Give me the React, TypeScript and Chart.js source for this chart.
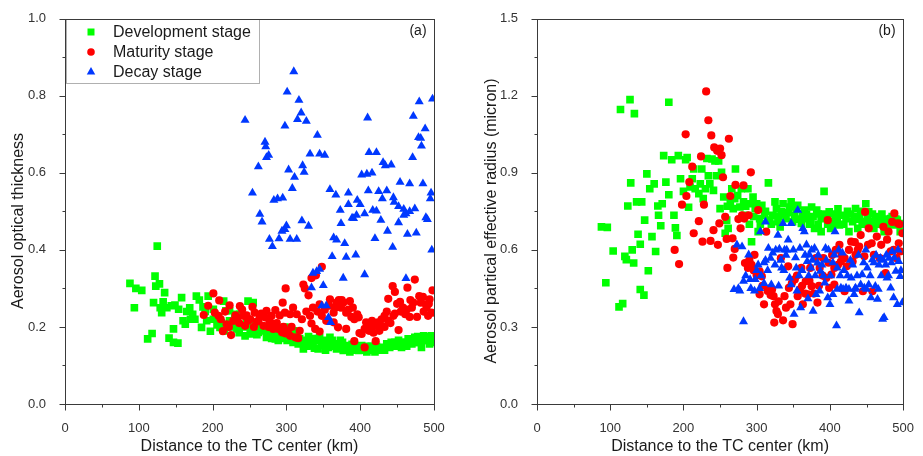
import React, { useEffect, useRef } from 'react';
import { Chart, registerables } from 'chart.js';
Chart.register(...registerables);

const FONT = '"Liberation Sans", Arial, Helvetica, sans-serif';

const seriesLabels = ['Development stage', 'Maturity stage', 'Decay stage'];
const seriesColors = ['#00ff00', '#ff0000', '#0038ff'];

const xTickRange = [0, 500];
const aotRange = [0, 1.0];
const reffRange = [0, 1.5];

// Panel (a): aerosol optical thickness vs distance (km)
const devAot: number[][] = [
  [88,.313],[96,.3],[104,.295],[94,.25],[122,.332],[125,.41],[128,.312],[123,.306],[120,.263],[133,.265],[135,.289],[131,.237],[129,.25],[112,.169],[118,.183],[141,.171],[147,.195],[147,.16],[153,.158],[158,.276],[149,.257],[154,.246],[160,.216],[163,.207],[165,.24],[169,.25],[173,.233],[176,.22],[178,.28],[182,.27],[185,.199],[187,.252],[194,.28],[197,.189],[192,.216],[201,.22],[205,.226],[210,.199],[215,.267],[218,.242],[223,.216],[230,.233],[233,.195],[237,.233],[244,.177],[248,.267],[251,.182],[255,.195],[262,.186],[266,.195],[273,.173],[278,.182],[285,.169],[289,.165],[296,.182],[301,.165],[309,.16],[316,.156],[323,.143],[326,.165],[332,.16],[336,.152],[343,.143],[345,.173],[350,.152],[357,.147],[359,.173],[364,.156],[368,.143],[373,.165],[377,.139],[382,.152],[386,.135],[391,.147],[398,.139],[402,.152],[409,.135],[413,.143],[420,.135],[424,.143],[431,.147],[436,.156],[440,.147],[445,.156],[452,.165],[456,.147],[461,.16],[465,.169],[470,.156],[474,.173],[479,.16],[483,.147],[486,.177],[490,.165],[494,.156],[497,.177],[499,.169],[255,.263],[201,.246],[223,.242],[240,.2],[258,.21],[270,.19],[282,.2],[292,.19],[305,.175],[318,.17],[330,.175],[340,.165],[355,.16],[370,.155],[380,.145],[395,.15],[405,.14],[415,.15],[428,.14],[448,.15],[468,.165],[478,.175],[488,.17],[495,.16],[362,.165],[348,.155],[460,.155],[442,.16],[246,.22],[228,.205],[212,.21],[190,.24],[170,.22],[144,.255],[138,.25],[310,.19],[298,.2],
  [303,.19],[313,.18],[320,.16],[328,.15],[335,.17],[338,.145],[352,.165],[353,.14],[366,.15],[372,.145],[376,.16],[385,.145],[389,.155],[393,.14],[400,.145],[407,.145],[411,.15],[418,.14],[422,.15],[433,.14],[438,.15],[447,.16],[451,.155],[458,.16],[463,.15],[472,.165],[476,.16],[481,.17],[485,.165],[492,.175],[496,.165],[260,.18],[268,.2],[275,.185],[280,.17],[287,.18],[294,.17],[250,.2],[236,.185],[226,.2],[216,.19],[206,.205]
];
const matAot: number[][] = [
  [201,.287],[188,.231],[194,.255],[209,.269],[208,.229],[203,.237],[223,.256],[237,.254],[219,.207],[214,.189],[225,.179],[228,.216],[234,.225],[242,.229],[244,.203],[248,.216],[254,.252],[257,.237],[260,.214],[264,.226],[269,.203],[273,.242],[277,.216],[280,.229],[282,.195],[285,.244],[289,.195],[294,.186],[299,.183],[305,.177],[312,.173],[316,.171],[299,.3],[295,.263],[298,.237],[305,.233],[309,.25],[314,.233],[321,.22],[323,.31],[325,.3],[330,.282],[334,.327],[340,.334],[348,.356],[332,.229],[334,.209],[339,.195],[345,.188],[348,.229],[354,.216],[359,.272],[364,.237],[368,.263],[374,.25],[377,.263],[381,.237],[386,.267],[388,.226],[364,.212],[370,.199],[381,.195],[392,.163],[396,.233],[399,.184],[406,.147],[406,.195],[411,.203],[416,.216],[420,.203],[421,.163],[424,.212],[429,.22],[433,.229],[438,.216],[438,.273],[444,.306],[447,.291],[445,.229],[452,.192],[454,.265],[458,.25],[461,.233],[464,.302],[467,.226],[472,.263],[474,.323],[477,.226],[482,.263],[485,.278],[489,.259],[492,.229],[494,.272],[498,.295],[497,.237],[408,.212],[402,.182],[345,.259],[415,.2],[427,.205],[436,.24],[450,.26],[468,.27],[480,.28],[490,.25],[371,.27],[384,.245],[392,.22],
  [211,.22],[217,.24],[222,.2],[231,.23],[236,.21],[240,.245],[246,.23],[251,.22],[256,.2],[262,.215],[266,.235],[271,.225],[276,.2],[279,.21],[287,.21],[291,.23],[296,.2],[302,.19],[307,.2],[318,.19],[327,.24],[336,.25],[342,.24],[352,.245],[358,.255],[366,.25],[375,.27],[390,.25],[398,.225],[412,.19],[418,.185],[426,.19],[433,.2],[441,.21],[447,.235],[455,.24],[463,.245],[470,.25],[486,.24],[493,.26]
];
const decAot: number[][] = [
  [244,.737],[310,.863],[301,.81],[317,.789],[320,.756],[315,.739],[327,.734],[298,.722],[342,.698],[271,.68],[272,.668],[332,.649],[345,.649],[352,.646],[273,.64],[276,.646],[262,.616],[322,.619],[324,.602],[303,.608],[311,.589],[254,.548],[308,.56],[264,.493],[267,.473],[321,.476],[330,.462],[277,.428],[281,.409],[290,.429],[298,.453],[300,.463],[294,.449],[305,.428],[314,.428],[283,.529],[288,.533],[295,.535],[336,.34],[341,.344],[345,.35],[334,.302],[350,.308],[348,.255],[354,.255],[360,.212],[357,.225],
  [410,.743],[472,.747],[480,.785],[498,.792],[488,.715],[482,.69],[479,.692],[483,.67],[471,.64],[412,.653],[422,.653],[431,.627],[434,.619],[442,.621],[402,.595],[409,.597],[416,.6],[454,.576],[467,.572],[485,.572],[496,.548],[495,.533],[359,.557],[367,.543],[384,.548],[411,.554],[425,.552],[436,.554],[430,.533],[446,.524],[445,.536],[452,.513],[459,.506],[462,.494],[459,.49],[467,.5],[474,.507],[373,.503],[384,.518],[396,.529],[400,.518],[389,.483],[395,.49],[406,.494],[417,.503],[422,.501],[428,.477],[452,.471],[374,.469],[364,.432],[368,.426],[379,.417],[391,.482],[420,.43],[437,.449],[464,.441],[476,.444],[491,.479],[489,.484],[497,.4],[444,.407],[362,.383],[381,.381],[394,.387],[377,.327],[406,.336],[462,.326]
];

// Panel (b): aerosol particle effective radius (micron) vs distance (km)
const devReff: number[][] = [
  [88,.69],[96,.688],[104,.596],[94,.472],[114,1.147],[127,1.185],[133,1.131],[180,1.175],[112,.378],[117,.391],[120,.575],[122,.562],[124,.771],[128,.861],[130,.6],[132,.549],[136,.787],[143,.787],[138,.661],[141,.622],[141,.446],[146,.424],[150,.896],[147,.716],[152,.519],[154,.838],[157,.652],[160,.857],[162,.594],[165,.771],[166,.735],[169,.694],[171,.78],[173,.967],[176,.864],[180,.815],[184,.951],[187,.735],[189,.686],[191,.656],[193,.967],[196,.877],[200,.828],[203,.951],[205,.96],[207,.766],[209,.845],[212,.877],[214,.915],[216,.838],[221,.819],[223,.857],[225,.915],[227,.8],[230,.838],[232,.956],[234,.889],[236,.857],[239,.954],[241,.832],[243,.947],[245,.889],[248,.947],[250,.761],[252,.902],[255,.806],[257,.665],[259,.716],[261,.684],[264,.787],[266,.838],[268,.761],[271,.915],[274,.812],[277,.767],[279,.838],[282,.787],[284,.735],[288,.838],[291,.78],[293,.632],[295,.806],[298,.761],[302,.671],[304,.722],[307,.774],[311,.735],[316,.861],[318,.716],[322,.735],[325,.787],[329,.71],[334,.748],[336,.78],[340,.722],[345,.767],[347,.787],[352,.735],[356,.774],[361,.703],[365,.755],[370,.722],[375,.767],[379,.684],[382,.755],[388,.722],[392,.828],[395,.735],[399,.748],[404,.71],[408,.735],[413,.697],[417,.735],[422,.722],[426,.671],[431,.71],[435,.761],[440,.722],[444,.71],[449,.78],[453,.748],[456,.71],[460,.684],[465,.716],[469,.729],[474,.71],[478,.697],[483,.722],[487,.697],[492,.716],[496,.671],[499,.703],[374,.71],[401,.684],[438,.684],[474,.671],[388,.671],[330,.73],[343,.745],[358,.72],[384,.74],[410,.72],[428,.74],[447,.7],[462,.73],[490,.72],
  [305,.7],[312,.75],[320,.7],[327,.76],[332,.69],[338,.74],[349,.71],[354,.76],[363,.73],[368,.74],[372,.7],[377,.73],[384,.7],[391,.74],[397,.7],[402,.74],[406,.7],[411,.76],[419,.7],[424,.75],[433,.73],[437,.72],[442,.75],[451,.72],[458,.74],[463,.7],[467,.7],[471,.74],[476,.72],[481,.7],[485,.73],[489,.7],[494,.7],[498,.68],[260,.77],[270,.8],[285,.77],[296,.73],[300,.78],[290,.7]
];
const matReff: number[][] = [
  [231,1.217],[234,1.105],[238,1.046],[203,1.05],[262,1.033],[242,.999],[250,.995],[246,.986],[252,.969],[224,.964],[212,.924],[292,.902],[254,.883],[208,.864],[271,.853],[282,.851],[204,.81],[264,.81],[198,.776],[228,.776],[221,.712],[214,.665],[226,.632],[237,.635],[241,.677],[247,.62],[249,.703],[257,.729],[259,.643],[267,.645],[270,.604],[275,.72],[278,.684],[280,.735],[283,.722],[289,.735],[260,.53],[188,.6],[194,.545],[302,.755],[284,.549],[288,.53],[293,.542],[297,.581],[300,.501],[304,.517],[307,.497],[304,.427],[310,.388],[313,.671],[315,.44],[319,.424],[321,.446],[325,.388],[327,.362],[329,.35],[324,.317],[333,.568],[336,.326],[340,.375],[343,.536],[344,.452],[346,.388],[349,.311],[352,.485],[356,.42],[359,.446],[361,.53],[363,.388],[367,.478],[370,.427],[373,.53],[375,.459],[381,.568],[383,.395],[386,.53],[391,.568],[397,.716],[395,.491],[399,.452],[402,.504],[406,.53],[411,.542],[413,.62],[415,.555],[420,.568],[423,.536],[429,.632],[431,.555],[435,.581],[440,.613],[442,.658],[448,.748],[447,.575],[453,.684],[457,.626],[460,.581],[464,.652],[468,.568],[473,.69],[476,.51],[480,.671],[483,.594],[485,.709],[488,.742],[491,.568],[493,.703],[494,.626],[496,.594],[499,.665],[420,.439],[445,.439],[458,.439],[406,.465],
  [318,.45],[323,.42],[330,.4],[338,.42],[348,.47],[355,.5],[362,.46],[366,.43],[372,.48],[378,.43],[385,.46],[390,.5],[398,.55],[403,.58],[408,.6],[416,.58],[426,.6],[434,.63],[438,.6],[452,.62],[470,.62],[478,.64],[487,.6],[495,.7],[308,.46],[296,.52],[290,.56],[268,.57]
];
const decReff: number[][] = [
  [273,.62],[280,.613],[289,.581],[282,.321],[269,.446],[277,.44],[282,.478],[291,.485],[298,.485],[297,.44],[302,.542],[305,.671],[312,.709],[316,.607],[319,.568],[322,.588],[325,.542],[329,.658],[331,.604],[334,.53],[336,.703],[338,.6],[343,.639],[347,.703],[345,.491],[351,.35],[354,.53],[356,.755],[359,.607],[360,.375],[363,.684],[365,.671],[368,.62],[369,.555],[372,.581],[374,.53],[377,.362],[379,.607],[381,.427],[383,.549],[387,.517],[389,.542],[393,.472],[394,.607],[397,.414],[400,.388],[404,.427],[406,.581],[407,.671],[409,.305],[410,.53],[415,.452],[417,.588],[422,.452],[426,.401],[429,.491],[431,.542],[433,.427],[435,.452],[440,.356],[442,.465],[444,.504],[447,.452],[451,.53],[453,.465],[456,.414],[458,.562],[462,.459],[465,.408],[467,.542],[469,.568],[472,.33],[474,.337],[476,.542],[478,.491],[481,.568],[483,.452],[485,.594],[487,.414],[490,.517],[492,.388],[494,.555],[496,.497],[499,.395],[347,.465],[320,.465],[410,.447],[418,.447],[426,.447],[434,.447],[450,.447],[466,.447],[312,.56],[340,.58],[376,.56],[395,.56],
  [300,.52],[306,.5],[310,.55],[315,.52],[326,.6],[333,.56],[337,.52],[341,.6],[350,.6],[353,.57],[358,.5],[362,.52],[366,.58],[371,.5],[375,.6],[380,.5],[384,.58],[391,.5],[398,.6],[401,.5],[404,.55],[412,.6],[414,.5],[419,.52],[424,.5],[428,.56],[437,.5],[439,.58],[446,.55],[449,.6],[455,.5],[460,.55],[463,.58],[470,.5],[473,.56],[477,.58],[480,.5],[484,.55],[488,.57],[493,.6],[497,.52],[285,.5],[275,.45],[292,.45],[304,.45],[310,.47],[330,.46],[355,.44],[370,.41],[386,.44]
];

const toPts = (arr: number[][]) => arr.map(([x, y]) => ({ x, y }));

const framePlugin = {
  id: 'frame',
  afterDraw(chart: any, _args: any, opts: any) {
    const { ctx, chartArea: a } = chart;
    const xs = chart.scales.x;
    const ys = chart.scales.y;
    const L = Math.round(a.left), R = Math.round(a.right), T = Math.round(a.top), B = Math.round(a.bottom);
    ctx.save();
    if (opts.legend) {
      const bx = L + 1, by = T, bw = 193, bh = 64;
      ctx.fillStyle = '#ffffff';
      ctx.fillRect(bx, by, bw, bh);
      ctx.strokeStyle = '#b0b0b0';
      ctx.lineWidth = 1;
      ctx.strokeRect(bx + 0.5, by + 0.5, bw, bh);
      chart.data.datasets.forEach((ds: any, i: number) => {
        const cy = by + 13 + i * 20;
        const cx = L + 26;
        ctx.fillStyle = ds.backgroundColor;
        ctx.beginPath();
        if (ds.pointStyle === 'rect') {
          ctx.rect(cx - 3.5, cy - 3.5, 7, 7);
        } else if (ds.pointStyle === 'circle') {
          ctx.arc(cx, cy, 3.8, 0, Math.PI * 2);
        } else {
          const r = 4.9;
          ctx.moveTo(cx, cy - r);
          ctx.lineTo(cx + r * Math.sin(2 * Math.PI / 3), cy + r * 0.5);
          ctx.lineTo(cx - r * Math.sin(2 * Math.PI / 3), cy + r * 0.5);
          ctx.closePath();
        }
        ctx.fill();
        ctx.fillStyle = '#1a1a1a';
        ctx.font = `16px ${FONT}`;
        ctx.textAlign = 'left';
        ctx.textBaseline = 'middle';
        ctx.fillText(ds.label, L + 48, cy + 1);
      });
    }
    ctx.strokeStyle = '#3a3a3a';
    ctx.lineWidth = 1;
    ctx.strokeRect(L + 0.5, T + 0.5, R - L, B - T);
    ctx.beginPath();
    xs.ticks.forEach((t: any) => {
      const px = Math.round(xs.getPixelForValue(t.value)) + 0.5;
      const len = Math.abs(t.value % 100) < 1e-6 ? 6 : 3;
      ctx.moveTo(px, B + 0.5);
      ctx.lineTo(px, B + 0.5 + len);
    });
    ys.ticks.forEach((t: any) => {
      const py = Math.round(ys.getPixelForValue(t.value)) + 0.5;
      const step = opts.yMajor;
      const major = Math.abs(Math.round(t.value / step) * step - t.value) < 1e-6;
      const len = major ? 6 : 3;
      ctx.moveTo(L + 0.5 - len, py);
      ctx.lineTo(L + 0.5, py);
    });
    ctx.stroke();
    ctx.fillStyle = '#1a1a1a';
    ctx.font = `16px ${FONT}`;
    ctx.textAlign = 'center';
    ctx.textBaseline = 'middle';
    ctx.save();
    ctx.translate(opts.yTitleX, 221);
    ctx.rotate(-Math.PI / 2);
    ctx.fillText(opts.yTitle, 0, 0);
    ctx.restore();
    ctx.font = `14px ${FONT}`;
    ctx.fillStyle = '#1a1a1a';
    ctx.fillText(opts.panel, R - 16, T + 12);
    ctx.restore();
  },
};

function makeConfig(opts: {
  data: number[][][];
  yRange: number[];
  yStep: number;
  yMajor: number;
  yWidth: number;
  padRight: number;
  yTitle: string;
  yTitleX: number;
  panel: string;
  legend: boolean;
}) {
  const styles = ['rect', 'circle', 'triangle'];
  const radii = [5.4, 4.1, 5.2];
  const orders = [3, 2, 1];
  return {
    type: 'scatter' as const,
    data: {
      datasets: opts.data.map((d, i) => ({
        label: seriesLabels[i],
        data: toPts(d),
        pointStyle: styles[i],
        pointRadius: radii[i],
        pointHoverRadius: radii[i],
        backgroundColor: seriesColors[i],
        borderColor: seriesColors[i],
        borderWidth: 0,
        order: orders[i],
      })),
    },
    options: {
      responsive: false,
      animation: false as const,
      devicePixelRatio: 1,
      events: [],
      layout: { padding: { left: 0, right: opts.padRight, top: 15, bottom: 0 } },
      plugins: {
        legend: { display: false },
        tooltip: { enabled: false },
        frame: {
          yMajor: opts.yMajor,
          yTitle: opts.yTitle,
          yTitleX: opts.yTitleX,
          panel: opts.panel,
          legend: opts.legend,
        },
      },
      scales: {
        x: {
          type: 'linear' as const,
          min: xTickRange[0],
          max: xTickRange[1],
          grid: { display: false },
          border: { display: false },
          afterFit: (s: any) => { s.height = 52; },
          ticks: {
            stepSize: 50,
            autoSkip: false,
            maxRotation: 0,
            padding: 9,
            color: '#333333',
            font: { family: FONT, size: 13 },
            callback: (v: any) => (Math.abs(v % 100) < 1e-6 ? String(v) : ''),
          },
          title: {
            display: true,
            text: 'Distance to the TC center (km)',
            color: '#1a1a1a',
            font: { family: FONT, size: 16 },
            padding: { top: 0, bottom: 0 },
          },
        },
        y: {
          type: 'linear' as const,
          min: opts.yRange[0],
          max: opts.yRange[1],
          grid: { display: false },
          border: { display: false },
          afterFit: (s: any) => { s.width = opts.yWidth; },
          ticks: {
            stepSize: opts.yStep,
            autoSkip: false,
            padding: 11,
            color: '#333333',
            font: { family: FONT, size: 13 },
            callback: (v: any) => {
              const m = opts.yMajor;
              return Math.abs(Math.round(v / m) * m - v) < 1e-6 ? Number(v).toFixed(1) : '';
            },
          },
        },
      },
    },
    plugins: [framePlugin],
  };
}

function Panel(props: { left: number; width: number; config: any }) {
  const ref = useRef<HTMLCanvasElement | null>(null);
  useEffect(() => {
    if (!ref.current) return;
    const chart = new Chart(ref.current, props.config);
    return () => chart.destroy();
  }, []);
  return (
    <div style={{ position: 'absolute', left: props.left, top: 0, width: props.width, height: 456 }}>
      <canvas ref={ref} width={props.width} height={456} style={{ display: 'block' }} />
    </div>
  );
}

export default function App() {
  const cfgA = makeConfig({
    data: [devAot, matAot, decAot],
    yRange: aotRange,
    yStep: 0.1,
    yMajor: 0.2,
    yWidth: 65,
    padRight: 28,
    yTitle: 'Aerosol optical thickness',
    yTitleX: 19,
    panel: '(a)',
    legend: true,
  });
  const cfgB = makeConfig({
    data: [devReff, matReff, decReff],
    yRange: reffRange,
    yStep: 0.15,
    yMajor: 0.3,
    yWidth: 75,
    padRight: 17,
    yTitle: 'Aerosol partical effective radius (micron)',
    yTitleX: 30,
    panel: '(b)',
    legend: false,
  });
  return (
    <div style={{ position: 'absolute', left: 0, top: 0, width: 923, height: 456, background: '#ffffff' }}>
      <Panel left={0} width={462} config={cfgA} />
      <Panel left={462} width={461} config={cfgB} />
    </div>
  );
}
